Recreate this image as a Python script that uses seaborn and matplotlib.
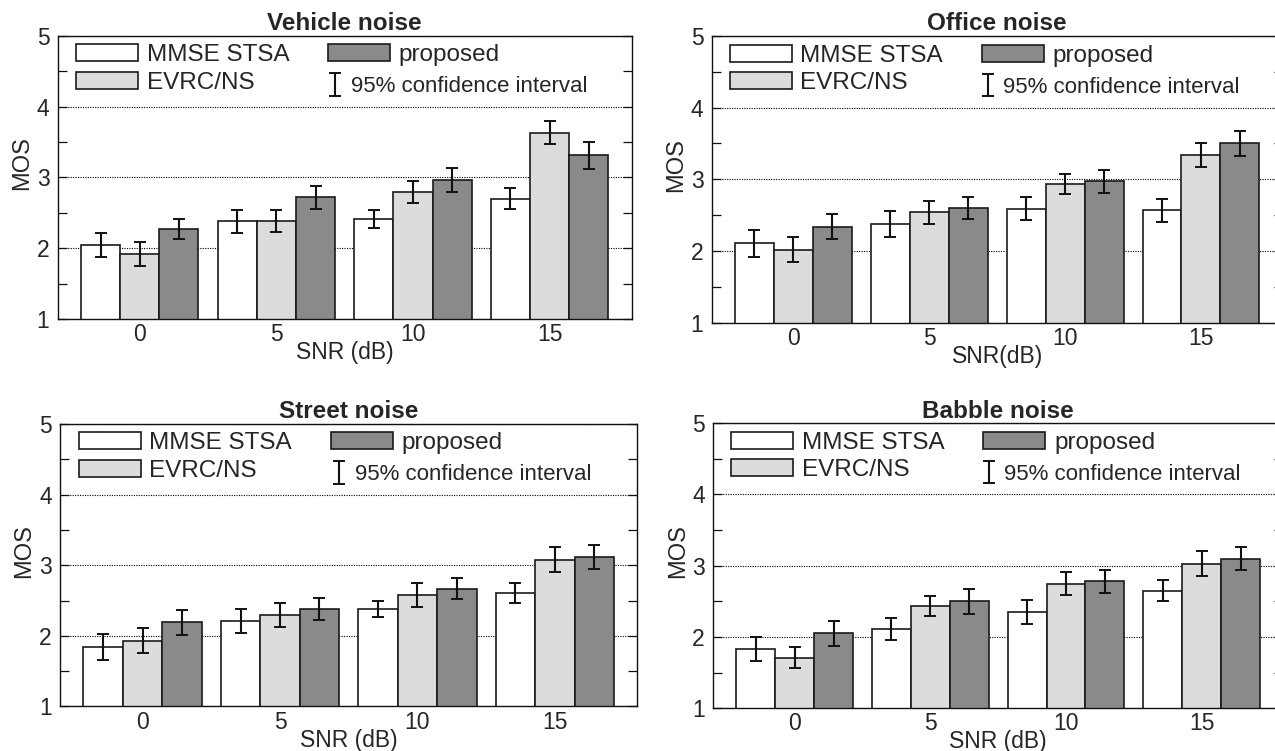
import numpy as np
import pandas as pd
import seaborn as sns
import matplotlib.pyplot as plt
from matplotlib.patches import Patch

snr_levels = [0, 5, 10, 15]
methods = ["MMSE STSA", "EVRC/NS", "proposed"]
bar_colors = ["#ffffff", "#dcdcdc", "#8a8a8a"]

# mean opinion scores, one row per method (MMSE STSA, EVRC/NS, proposed)
vehicle_mos = [[2.04, 2.38, 2.41, 2.70],
               [1.92, 2.38, 2.79, 3.63],
               [2.27, 2.72, 2.96, 3.31]]
vehicle_ci = [[0.17, 0.16, 0.125, 0.15],
              [0.17, 0.155, 0.155, 0.16],
              [0.14, 0.165, 0.17, 0.19]]

office_mos = [[2.11, 2.38, 2.59, 2.57],
              [2.02, 2.54, 2.94, 3.34],
              [2.34, 2.60, 2.97, 3.50]]
office_ci = [[0.19, 0.18, 0.16, 0.16],
             [0.17, 0.16, 0.14, 0.17],
             [0.17, 0.15, 0.16, 0.17]]

street_mos = [[1.84, 2.21, 2.38, 2.61],
              [1.93, 2.30, 2.58, 3.08],
              [2.19, 2.38, 2.67, 3.12]]
street_ci = [[0.18, 0.17, 0.12, 0.14],
             [0.18, 0.17, 0.17, 0.18],
             [0.18, 0.15, 0.15, 0.17]]

babble_mos = [[1.83, 2.11, 2.35, 2.65],
              [1.71, 2.44, 2.75, 3.03],
              [2.05, 2.50, 2.78, 3.10]]
babble_ci = [[0.17, 0.15, 0.165, 0.15],
             [0.145, 0.14, 0.165, 0.17],
             [0.18, 0.175, 0.165, 0.165]]

panels = [
    ("Vehicle noise", "SNR (dB)", vehicle_mos, vehicle_ci, [0.0453, 0.5752, 0.4501, 0.3772]),
    ("Office noise", "SNR(dB)", office_mos, office_ci, [0.5582, 0.5703, 0.4477, 0.3818]),
    ("Street noise", "SNR (dB)", street_mos, street_ci, [0.0471, 0.0593, 0.4528, 0.3762]),
    ("Babble noise", "SNR (dB)", babble_mos, babble_ci, [0.5594, 0.0570, 0.4469, 0.3794]),
]

sns.set_style("white")
plt.rcParams["font.family"] = ["Liberation Sans", "DejaVu Sans"]

fig = plt.figure(figsize=(12.75, 7.51), dpi=100)

for title, xlab, mos, ci, pos in panels:
    ax = fig.add_axes(pos)
    rows = []
    for m, vals in zip(methods, mos):
        for s, v in zip(snr_levels, vals):
            rows.append({"snr": s, "mos": v, "method": m})
    df = pd.DataFrame(rows)

    sns.barplot(data=df, x="snr", y="mos", hue="method", order=snr_levels,
                hue_order=methods, palette=bar_colors, width=0.86,
                edgecolor="#1a1a1a", linewidth=1.2, errorbar=None,
                legend=False, ax=ax, zorder=2)

    # error bars on top of each bar
    xs, ys, es = [], [], []
    for cont, errs in zip(ax.containers, ci):
        for bar, e in zip(cont, errs):
            xs.append(bar.get_x() + bar.get_width() / 2)
            ys.append(bar.get_height())
            es.append(e)
    eb = ax.errorbar(xs, ys, yerr=es, fmt="none", ecolor="#111111",
                     elinewidth=1.5, capsize=4.5, capthick=1.4, zorder=3)

    ax.set_xlim(-0.6, 3.6)
    ax.set_ylim(1, 5)
    ax.set_yticks([1, 2, 3, 4, 5])
    ax.set_yticks([1.5, 2.5, 3.5, 4.5], minor=True)
    ax.tick_params(axis="y", which="both", direction="in", length=6.5,
                   width=0.9, left=True, right=True, labelsize=16.5, pad=6,
                   color="#111111")
    ax.tick_params(axis="x", length=0, labelsize=16.5, pad=3)
    ax.set_axisbelow(True)
    ax.yaxis.grid(True, which="major", linestyle=(0, (1, 1.2)),
                  color="black", linewidth=0.8)
    ax.xaxis.grid(False)
    for sp in ax.spines.values():
        sp.set_visible(True)
        sp.set_color("#111111")
        sp.set_linewidth(1.0)

    ax.set_title(title, fontsize=17.5, fontweight="bold", pad=4)
    ax.set_xlabel(xlab, fontsize=16.5, labelpad=-3.5)
    ax.set_ylabel("MOS", fontsize=17)
    ax.yaxis.set_label_coords(-0.043, 0.55)

    handles = [Patch(facecolor=c, edgecolor="#1a1a1a", linewidth=1.2)
               for c in bar_colors]
    leg1 = ax.legend(handles, methods, loc="upper left",
                     bbox_to_anchor=(0.032, 0.97), ncol=2, frameon=False,
                     fontsize=17.5, handlelength=2.55, handleheight=0.7,
                     handletextpad=0.35, labelspacing=0.22, columnspacing=1.6,
                     borderpad=0, borderaxespad=0)
    ax.add_artist(leg1)
    ax.legend([eb], ["95% confidence interval"], loc="upper left",
              bbox_to_anchor=(0.47, 0.857), frameon=False, fontsize=16,
              handlelength=0.7, handletextpad=0.35, borderpad=0,
              borderaxespad=0)

fig.savefig("out.png", dpi=100)
